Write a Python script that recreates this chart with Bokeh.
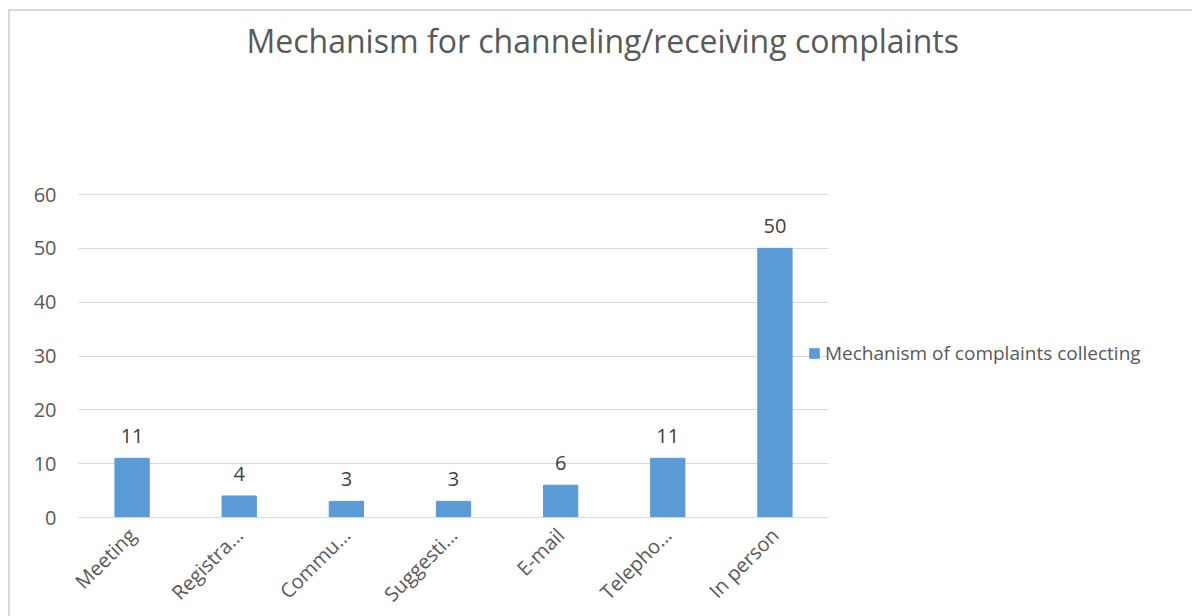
from bokeh.plotting import figure
from bokeh.models import ColumnDataSource, LabelSet, Legend, LegendItem, Range1d, FactorRange, Title
from bokeh.embed import file_html
from bokeh.resources import INLINE
from bokeh.core.properties import value
import math

categories = ["Meeting", "Registra…", "Commu…", "Suggesti…", "E-mail", "Telepho…", "In person"]
values = [11, 4, 3, 3, 6, 11, 50]
y_ticks = [0, 10, 20, 30, 40, 50, 60]
series_name = "Mechanism of complaints collecting"
title_text = "Mechanism for channeling/receiving  complaints"

src = ColumnDataSource(dict(cat=categories, val=values, lab=[str(v) for v in values]))

# plot area: axis part is 323 px tall (0..60); frame extends higher to leave room under the title
AXIS_PX = 323
FRAME_PX = 451
y_end = 60 * FRAME_PX / AXIS_PX

p = figure(frame_width=750, frame_height=FRAME_PX, x_range=FactorRange(*categories),
           y_range=Range1d(0, y_end),
           output_backend="svg", toolbar_location=None,
           min_border_left=68, min_border_right=0, min_border_top=53, min_border_bottom=90)
p.margin = (9, 0, 0, 8)
p.styles = {"border-top": "2px solid #d9d9d9", "border-left": "2px solid #d9d9d9"}
p.outline_line_color = None
p.background_fill_color = "white"
p.border_fill_color = "white"

r = p.vbar(x="cat", top="val", width=0.32, source=src, color="#5B9BD5", line_color="#5B9BD5")

p.x_range.range_padding = 0

p.yaxis.ticker = y_ticks
p.yaxis.axis_line_color = None
p.yaxis.major_tick_line_color = None
p.yaxis.minor_tick_line_color = None
p.yaxis.major_label_text_font = "Open Sans"
p.yaxis.major_label_text_font_size = "20px"
p.yaxis.major_label_text_color = "#595959"
p.yaxis.major_label_standoff = 16

p.xaxis.axis_line_color = "#d9d9d9"
p.xaxis.axis_line_width = 1
p.xaxis.major_tick_line_color = None
p.xaxis.minor_tick_line_color = None
p.xaxis.major_label_orientation = math.pi / 4
p.xaxis.major_label_text_font = "Open Sans"
p.xaxis.major_label_text_font_size = "20px"
p.xaxis.major_label_text_color = "#595959"
p.xaxis.major_label_standoff = 8

p.xgrid.grid_line_color = None
p.ygrid.grid_line_color = "#d9d9d9"
p.ygrid.grid_line_width = 1

labels = LabelSet(x="cat", y="val", text="lab", source=src, text_align="center",
                  text_baseline="bottom", y_offset=15, text_font=value("Open Sans"),
                  text_font_size="20px", text_color="#404040")
p.add_layout(labels)

t = Title(text=title_text, align="left", offset=168, text_font="Open Sans",
          text_font_size="32px", text_font_style="normal", text_color="#595959")
p.add_layout(t, "above")

legend = Legend(items=[LegendItem(label=series_name, renderers=[r])], location=(-20, 151),
                background_fill_alpha=0, border_line_color=None,
                label_text_font="Open Sans", label_text_font_size="19px",
                label_text_color="#595959", glyph_width=12, glyph_height=12,
                label_standoff=5, padding=0, margin=0)
p.add_layout(legend, "right")

open("out.html", "w").write(file_html(p, INLINE))
